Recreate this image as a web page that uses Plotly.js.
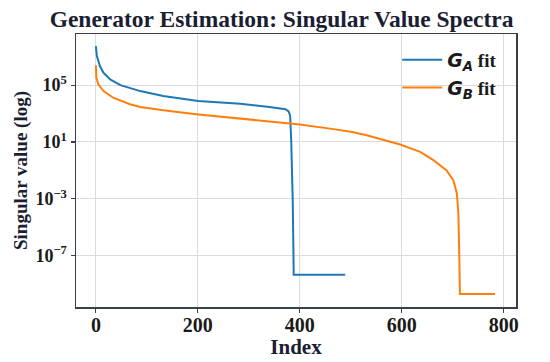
<!DOCTYPE html>
<html>
<head>
<meta charset="utf-8">
<script src="https://cdn.plot.ly/plotly-3.0.1.min.js"></script>
<style>html,body{margin:0;padding:0;background:#fff;}#chart{width:550px;height:362px;}</style>
</head>
<body>
<div id="chart"></div>
<script>
// Singular value spectra
const gaIndex = [0, 2, 8, 15, 28, 48, 87, 132, 201, 283, 340, 372, 378, 381, 383, 385, 386, 387, 388, 489];
const gaValue = [5.5e7, 1.1e7, 2.1e6, 7.4e5, 2.5e5, 1.0e5, 3.8e4, 1.7e4, 7.6e3, 4.9e3, 2.9e3, 2.0e3, 1.4e3, 7.1e2, 16, 0.1, 1e-3, 3.2e-6, 4.5e-9, 4.5e-9];

const gbIndex = [0, 1, 5, 15, 34, 67, 87, 132, 201, 283, 342, 400, 466, 500, 531, 597, 636, 662, 688, 701, 708, 711, 713, 714, 783];
const gbValue = [2.5e6, 3.3e5, 1.1e5, 3.8e4, 1.3e4, 4.5e3, 2.9e3, 1.7e3, 8.7e2, 4.4e2, 3.0e2, 1.7e2, 80, 52, 30, 6.6, 2.0, 0.52, 0.10, 0.020, 2.4e-3, 9.5e-5, 3.0e-8, 1.95e-10, 1.95e-10];

const xTicks = [0, 200, 400, 600, 800];
const yTickVals = [1e5, 1e1, 1e-3, 1e-7];
const yTickText = ["10<sup>5</sup>", "10<sup>1</sup>", "10<sup>−3</sup>", "10<sup>−7</sup>"];

const serif = "Liberation Serif";
const ink = "#1b1e33";

const traces = [
  {x: gaIndex, y: gaValue, type: "scatter", mode: "lines", name: '<span style="font-family:DejaVu Sans"><b><i>G<sub>A</sub></i></b></span> <b>fit</b>',
   line: {color: "#1f77b4", width: 2}},
  {x: gbIndex, y: gbValue, type: "scatter", mode: "lines", name: '<span style="font-family:DejaVu Sans"><b><i>G<sub>B</sub></i></b></span> <b>fit</b>',
   line: {color: "#ff7f0e", width: 2}}
];

const axisCommon = {
  showline: true, mirror: true, linecolor: "#3a3f4a", linewidth: 1.5,
  ticks: "outside", ticklen: 4, tickwidth: 1.2, tickcolor: "#3a3f4a",
  showgrid: true, gridcolor: "#d8dbe2", gridwidth: 1, zeroline: false
};

const layout = {
  width: 550, height: 362,
  margin: {l: 76, r: 34, t: 34, b: 55},
  paper_bgcolor: "#fff", plot_bgcolor: "#fff",
  title: {text: "<b>Generator Estimation: Singular Value Spectra</b>", font: {family: serif, size: 23.5, color: ink},
          x: 0.512, xref: "container", xanchor: "center", y: 1 - 19/362, yref: "container", yanchor: "middle"},
  xaxis: Object.assign({}, axisCommon, {
    range: [-39, 824], tickvals: xTicks, ticktext: xTicks.map(String),
    ticklabelstandoff: -5,
    tickfont: {family: serif, size: 20, color: "#1a1a1a", weight: "bold"},
    title: {text: "<b>Index</b>", font: {family: serif, size: 21, color: ink}, standoff: 4}
  }),
  yaxis: Object.assign({}, axisCommon, {
    type: "log", range: [-10.62, 8.6], tickvals: yTickVals, ticktext: yTickText,
    tickfont: {family: serif, size: 18, color: "#1a1a1a", weight: "bold"},
    title: {text: "<b>Singular value (log)</b>", font: {family: serif, size: 19, color: ink}, standoff: 3}
  }),
  showlegend: true,
  legend: {x: 0.73, xanchor: "left", y: 0.975, yanchor: "top", bgcolor: "rgba(255,255,255,0)", borderwidth: 0,
           itemwidth: 40, font: {family: serif, size: 19, color: "#1a1a1a"}}
};

Plotly.newPlot("chart", traces, layout, {displayModeBar: false, staticPlot: true});
</script>
</body>
</html>
